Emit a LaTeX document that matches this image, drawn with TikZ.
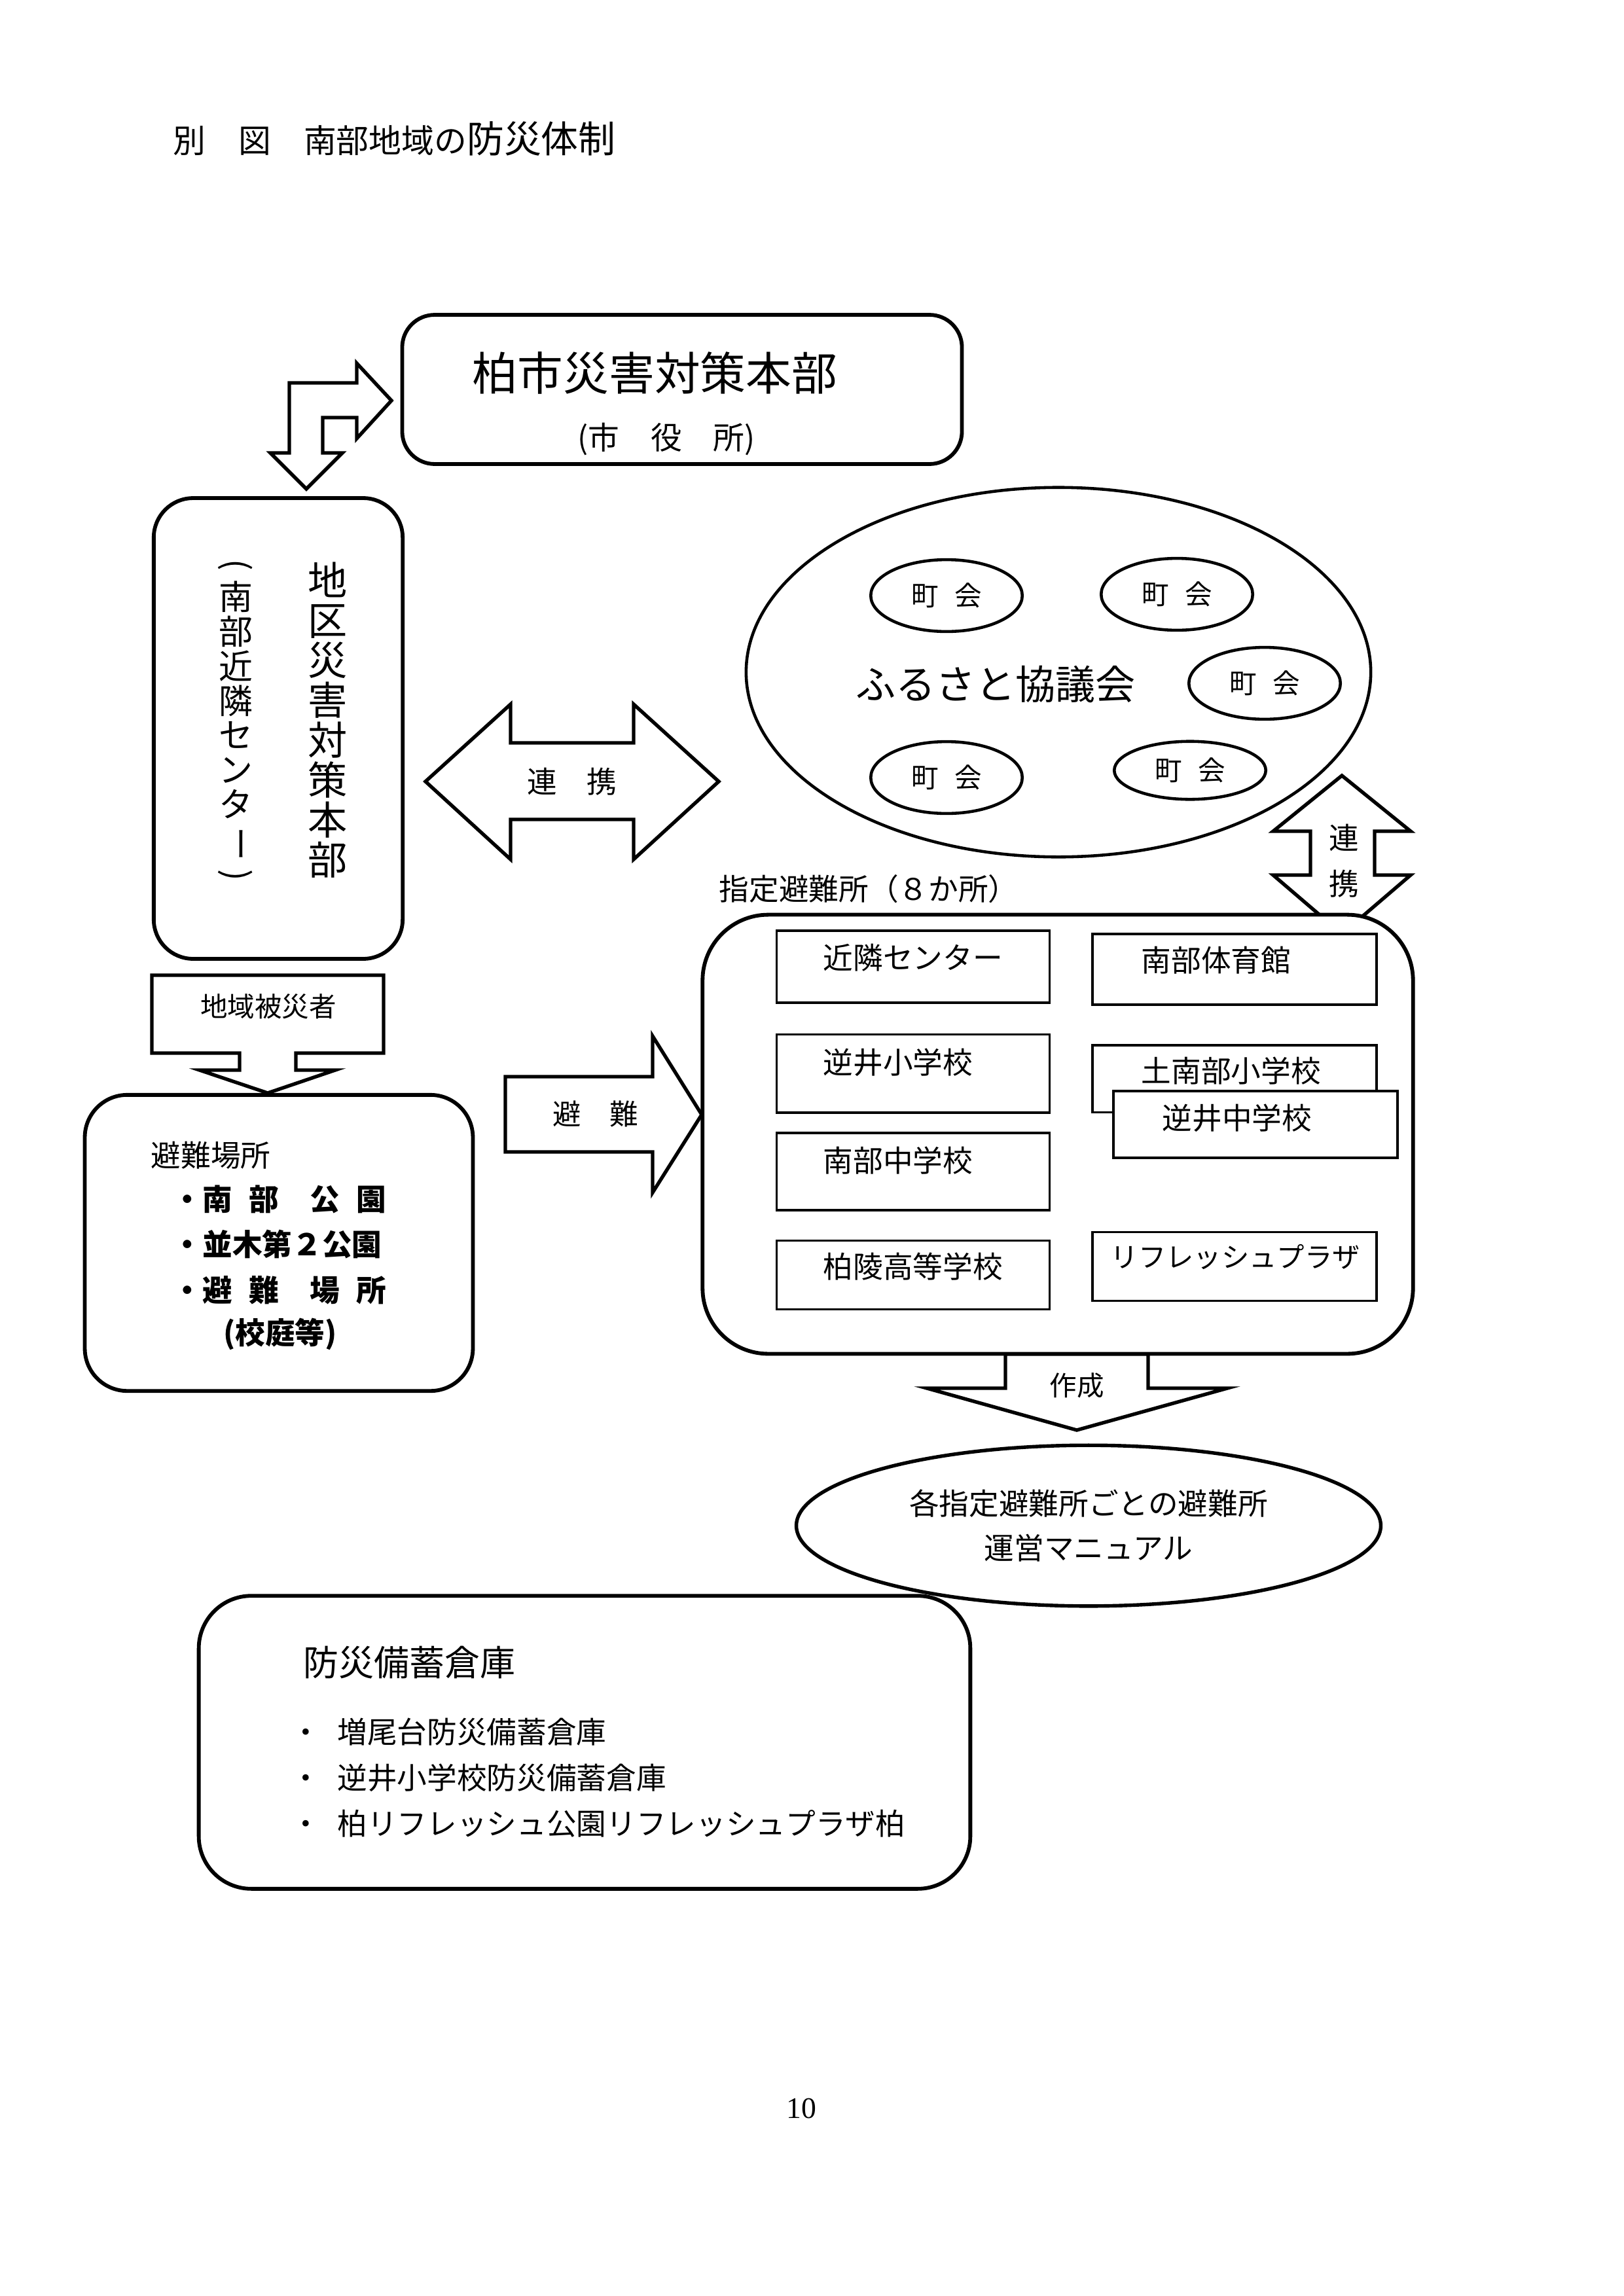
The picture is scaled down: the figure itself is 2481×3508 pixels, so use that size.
\documentclass[tikz,border=0pt]{standalone}
\usepackage{fontspec}
\usepackage{graphicx}
\setmainfont{Noto Sans CJK JP}
\newfontfamily\serifnum{Liberation Serif}
\usetikzlibrary{shapes.geometric}

\newcommand{\jpsize}[1]{\fontsize{#1}{#1}\selectfont}
\newcommand{\tatechar}[1]{\rotatebox[origin=c]{-90}{#1}}

\begin{document}
\begin{tikzpicture}[x=0.08467mm, y=-0.08467mm,
  rbox/.style={draw, rectangle, line width=1.4pt, fill=white, inner sep=0pt, outer sep=0pt},
  sbox/.style={draw, rectangle, line width=0.9pt, fill=white, inner sep=0pt, outer sep=0pt,
    minimum height=9.3mm},
  oval/.style={draw, ellipse, line width=1.1pt, fill=white, inner sep=0pt, outer sep=0pt},
  chokai/.style={oval, minimum width=19.6mm, minimum height=9.3mm, font=\jpsize{10pt}},
  blockarrow/.style={draw, line width=1.3pt, fill=white, line join=miter},
  txt/.style={inner sep=0pt, font=\jpsize{11pt}},
  vtext/.style={inner sep=0pt, align=center}]

  \useasboundingbox (0,0) rectangle (2481,3508);

  % 表題
  \node[txt, anchor=west, font=\jpsize{12pt}] (title) at (264,212)
    {別　図　南部地域の{\jpsize{13.7pt}防災体制}};

  % 柏市災害対策本部
  \node[rbox, rounded corners=4.2mm, minimum width=72.4mm, minimum height=19.3mm] (hq) at (1042,595) {};
  \node[txt, font=\jpsize{16.8pt}] (hqname) at (1000,570) {柏市災害対策本部};
  \node[txt, font=\jpsize{11.5pt}] (hqsub) at (1018,671) {(市　役　所)};
  \draw[blockarrow] (468,747) -- (413,692) -- (442,692) -- (442,585) -- (545,585) -- (545,555)
    -- (598,612) -- (545,670) -- (545,638) -- (493,638) -- (493,692) -- (523,692) -- cycle;

  % 地区災害対策本部
  \node[rbox, rounded corners=5.1mm, minimum width=32.2mm, minimum height=59.6mm] (district) at (425,1113) {};
  \node[vtext, font=\fontsize{14.5pt}{14.7pt}\selectfont] (districtname) at (501,1100)
    {地\\区\\災\\害\\対\\策\\本\\部};
  \node[vtext, font=\fontsize{12.5pt}{12.7pt}\selectfont] (districtsub) at (360,1104)
    {\tatechar{(}\\南\\部\\近\\隣\\セ\\ン\\タ\\\tatechar{ー}\\\tatechar{)}};

  % 連携（左右）
  \draw[blockarrow] (650,1194) -- (780,1076) -- (780,1135) -- (968,1135) -- (968,1076) -- (1098,1194)
    -- (968,1313) -- (968,1252) -- (780,1252) -- (780,1313) -- cycle;
  \node[txt] (linkh) at (874,1194) {連\hspace{1em}携};

  % ふるさと協議会
  \node[oval, minimum width=80.8mm, minimum height=47.8mm] (council) at (1617,1027) {};
  \node[txt, font=\jpsize{14.7pt}] (councilname) at (1521,1045) {ふるさと協議会};
  \node[chokai] (chokaiA) at (1446,910) {町\hspace{0.6em}会};
  \node[chokai] (chokaiB) at (1798,908) {町\hspace{0.6em}会};
  \node[chokai] (chokaiC) at (1932,1044) {町\hspace{0.6em}会};
  \node[chokai] (chokaiD) at (1446,1188) {町\hspace{0.6em}会};
  \node[chokai, minimum height=7.5mm] (chokaiE) at (1818,1177) {町\hspace{0.6em}会};

  % 連携（上下）
  \draw[blockarrow] (2050,1185) -- (2155,1270) -- (2100,1270) -- (2100,1337) -- (2155,1337) -- (2050,1427)
    -- (1945,1337) -- (2002,1337) -- (2002,1270) -- (1945,1270) -- cycle;
  \node[vtext, font=\fontsize{11pt}{16.8pt}\selectfont] (linkv) at (2053,1315) {連\\携};

  % 指定避難所
  \node[txt, anchor=west] (shelterlabel) at (1098,1358) {指定避難所（８か所）};
  \node[rbox, rounded corners=8.5mm, minimum width=91.9mm, minimum height=56.8mm] (shelter) at (1616,1733) {};
  \node[sbox, minimum width=35.3mm] (s1) at (1395,1477) {};
  \node[txt, anchor=west] (s1t) at (1257,1463) {近隣センター};
  \node[sbox, minimum width=36.7mm, minimum height=9.1mm] (s2) at (1886,1481) {};
  \node[txt, anchor=west] (s2t) at (1743,1467) {南部体育館};
  \node[sbox, minimum width=35.3mm, minimum height=10.1mm] (s3) at (1395,1640) {};
  \node[txt, anchor=west] (s3t) at (1257,1623) {逆井小学校};
  \node[sbox, minimum width=36.7mm, minimum height=8.7mm] (s4) at (1886,1648) {};
  \node[txt, anchor=west] (s4t) at (1743,1636) {土南部小学校};
  \node[sbox, minimum width=36.7mm, minimum height=8.6mm] (s5) at (1918,1718) {};
  \node[txt, anchor=west] (s5t) at (1775,1708) {逆井中学校};
  \node[sbox, minimum width=35.3mm, minimum height=10.0mm] (s6) at (1395,1790) {};
  \node[txt, anchor=west] (s6t) at (1257,1773) {南部中学校};
  \node[sbox, minimum width=35.3mm, minimum height=8.9mm] (s7) at (1395,1948) {};
  \node[txt, anchor=west] (s7t) at (1257,1935) {柏陵高等学校};
  \node[sbox, minimum width=36.7mm, minimum height=8.9mm] (s8) at (1886,1935) {};
  \node[txt, anchor=west, font=\jpsize{10.2pt}] (s8t) at (1696,1920) {リフレッシュプラザ};

  % 避難
  \draw[blockarrow] (772,1645) -- (997,1645) -- (997,1583) -- (1072,1703) -- (997,1822) -- (997,1760)
    -- (772,1760) -- cycle;
  \node[txt, font=\jpsize{10.5pt}] (evac) at (910,1702) {避\hspace{1em}難};

  % 避難場所
  \node[rbox, rounded corners=5.5mm, minimum width=50.2mm, minimum height=38.3mm] (refuge) at (426,1899) {};
  \draw[blockarrow] (232,1490) -- (586,1490) -- (586,1609) -- (452,1609) -- (452,1635) -- (512,1635)
    -- (409,1670) -- (305,1635) -- (366,1635) -- (366,1609) -- (232,1609) -- cycle;
  \node[txt, font=\jpsize{10pt}] (victims) at (410,1538) {地域被災者};
  \node[txt, anchor=west] (refugetitle) at (230,1765) {避難場所};
  \node[txt, anchor=west, font=\bfseries\jpsize{11pt}] (refugeA) at (263,1832)
    {・南\hspace{0.55em}部\hspace{1.05em}公\hspace{0.55em}園};
  \node[txt, anchor=west, font=\bfseries\jpsize{11pt}] (refugeB) at (263,1901) {・並木第２公園};
  \node[txt, anchor=west, font=\bfseries\jpsize{11pt}] (refugeC) at (263,1971)
    {・避\hspace{0.55em}難\hspace{1.05em}場\hspace{0.55em}所};
  \node[txt, font=\bfseries\jpsize{11pt}] (refugeD) at (428,2038) {(校庭等)};

  % 作成
  \draw[blockarrow] (1536,2069) -- (1536,2121) -- (1416,2121) -- (1645,2185) -- (1875,2121) -- (1754,2121)
    -- (1754,2069) -- cycle;
  \node[txt, font=\jpsize{10pt}] (make) at (1645,2117) {作成};

  % 運営マニュアル
  \node[oval, line width=1.3pt, minimum width=75.6mm, minimum height=20.8mm, align=center,
    font=\fontsize{11pt}{16.3pt}\selectfont] (manual) at (1663,2331)
    {各指定避難所ごとの避難所\\運営マニュアル};

  % 防災備蓄倉庫
  \node[rbox, rounded corners=6.8mm, minimum width=99.8mm, minimum height=37.9mm] (stock) at (893,2662) {};
  \node[txt, anchor=west, font=\jpsize{13pt}] (stocktitle) at (463,2540) {防災備蓄倉庫};
  \node[txt, anchor=west, align=left, font=\fontsize{11pt}{16.9pt}\selectfont] (stocklist) at (444,2716)
    {・\hspace{0.55em}増尾台防災備蓄倉庫\\・\hspace{0.55em}逆井小学校防災備蓄倉庫\\・\hspace{0.55em}柏リフレッシュ公園リフレッシュプラザ柏};

  % ページ番号
  \node[inner sep=0pt, font=\serifnum\jpsize{11pt}] (pagenum) at (1224,3221) {10};
\end{tikzpicture}
\end{document}
